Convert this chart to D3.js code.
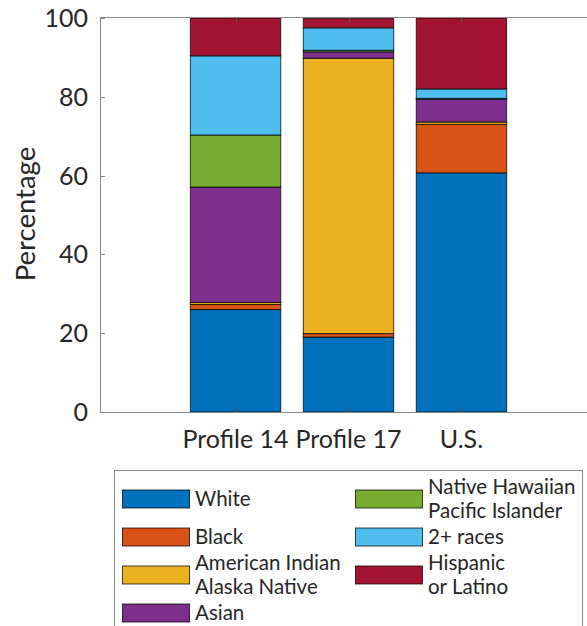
<!DOCTYPE html>
<html><head><meta charset="utf-8">
<script src="https://cdn.jsdelivr.net/npm/d3@7"></script>
<style>body{margin:0;background:#fff;} text{font-family:Lato,"DejaVu Sans",sans-serif;fill:#262626;}</style>
</head><body><svg id="c" width="587" height="626"></svg>
<script>
const categories = ["Profile 14", "Profile 17", "U.S."];
const groups = ["White", "Black", "American Indian\nAlaska Native", "Asian", "Native Hawaiian\nPacific Islander", "2+ races", "Hispanic\nor Latino"];
const colors = ["#0072BD", "#D95319", "#EDB120", "#7E2F8E", "#77AC30", "#4DBEEE", "#A2142F"];
const white    = [26.0, 19.0, 60.7];
const black    = [1.3, 0.9, 12.3];
const aian     = [0.5, 69.9, 0.6];
const asian    = [29.3, 1.6, 5.8];
const nhpi     = [13.2, 0.4, 0.2];
const multi    = [20.1, 5.7, 2.4];
const hispanic = [9.6, 2.4, 18.0];
const yTicks = [0, 20, 40, 60, 80, 100];

const series = [white, black, aian, asian, nhpi, multi, hispanic];
const svg = d3.select("#c");
const x = d3.scaleLinear().domain([-0.2, 4.2]).range([100, 597]);
const y = d3.scaleLinear().domain([0, 100]).range([412, 18]);
const bw = x(0.8) - x(0);

const rows = categories.map((c, i) => {
  const o = {cat: c, pos: i + 1};
  groups.forEach((g, k) => o[g] = series[k][i]);
  return o;
});
const stack = d3.stack().keys(groups)(rows);

stack.forEach((layer, k) => {
  svg.append("g").selectAll("rect").data(layer).join("rect")
    .attr("x", d => x(d.data.pos) - bw / 2)
    .attr("width", bw)
    .attr("y", d => y(d[1]))
    .attr("height", d => y(d[0]) - y(d[1]))
    .attr("fill", colors[k])
    .attr("stroke", "#000").attr("stroke-opacity", 0.75).attr("stroke-width", 1);
});

// axes box
const ax = svg.append("g").attr("stroke", "#888").attr("fill", "none");
ax.append("line").attr("x1", 100).attr("x2", 587).attr("y1", 412.5).attr("y2", 412.5);
ax.append("line").attr("x1", 100).attr("x2", 587).attr("y1", 17.5).attr("y2", 17.5);
ax.append("line").attr("x1", 100.5).attr("x2", 100.5).attr("y1", 17.5).attr("y2", 412.5);

// y ticks
yTicks.forEach(t => {
  ax.append("line").attr("x1", 100).attr("x2", 105).attr("y1", Math.round(y(t)) + 0.5).attr("y2", Math.round(y(t)) + 0.5);
  svg.append("text").attr("x", 88).attr("y", y(t)).attr("dy", "0.36em")
    .attr("text-anchor", "end").attr("font-size", 25).text(t);
});
// x ticks
categories.forEach((c, i) => {
  const px = Math.round(x(i + 1)) + 0.5;
  svg.append("line").attr("x1", px).attr("x2", px).attr("y1", 412).attr("y2", 407).attr("stroke", "#555");
  svg.append("line").attr("x1", px).attr("x2", px).attr("y1", 18).attr("y2", 23).attr("stroke", "#555");
  svg.append("text").attr("x", x(i + 1)).attr("y", 448).attr("text-anchor", "middle")
    .attr("font-size", 25).text(c);
});

svg.append("text").attr("transform", "translate(35,214) rotate(-90)")
  .attr("text-anchor", "middle").attr("font-size", 27.5).text("Percentage");

// legend
svg.append("rect").attr("x", 114.5).attr("y", 470.5).attr("width", 468).attr("height", 200)
  .attr("fill", "#fff").attr("stroke", "#888");
const legPos = [[0,0],[0,1],[0,2],[0,3],[1,0],[1,1],[1,2]];
groups.forEach((g, k) => {
  const [col, row] = legPos[k];
  const sx = col === 0 ? 122 : 355;
  const cy = 499 + row * 38;
  svg.append("rect").attr("x", sx + 0.5).attr("y", cy - 9).attr("width", 67).attr("height", 18)
    .attr("fill", colors[k]).attr("stroke", "#000").attr("stroke-opacity", 0.75);
  const lines = g.split("\n");
  const t = svg.append("text").attr("x", sx + 73).attr("font-size", 20.5);
  lines.forEach((ln, j) => {
    t.append("tspan").attr("x", sx + 73)
      .attr("y", cy + 7 + (j - (lines.length - 1) / 2) * 24).text(ln);
  });
});
</script></body></html>
